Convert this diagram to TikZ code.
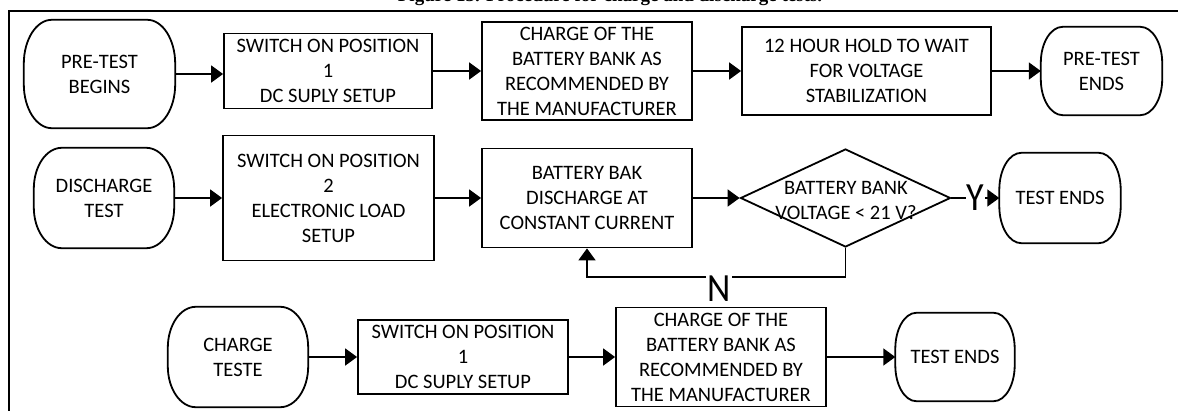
\documentclass[tikz,border=0pt]{standalone}
\usepackage{fontspec}
\setmainfont{Carlito}
\newfontfamily\titlefont{Liberation Serif}
\usetikzlibrary{arrows.meta,shapes.geometric,calc}
\tikzset{
  ln/.style={line width=1.8pt},
  txt/.style={font=\fontsize{20.5}{25}\selectfont, align=center, inner sep=0pt},
  termtxt/.style={txt},
  box/.style={txt, draw, ln},
  arr/.style={ln, -{Triangle[length=12pt,width=17pt]}},
  big/.style={font=\fontsize{40}{40}\selectfont, inner sep=1pt, xscale=0.9},
}
\newcommand\term[7]{% name, position, width, height, rx, ry, text
  \node[termtxt, minimum width=#3pt, minimum height=#4pt] (#1) at (#2) {#7};
  \draw[ln] ([xshift=#5pt]#1.north west) -- ([xshift=-#5pt]#1.north east)
    .. controls +(0.552*#5pt,0pt) and +(0pt,0.552*#6pt) .. ([yshift=-#6pt]#1.north east)
    -- ([yshift=#6pt]#1.south east)
    .. controls +(0pt,-0.552*#6pt) and +(0.552*#5pt,0pt) .. ([xshift=-#5pt]#1.south east)
    -- ([xshift=#5pt]#1.south west)
    .. controls +(-0.552*#5pt,0pt) and +(0pt,-0.552*#6pt) .. ([yshift=#6pt]#1.south west)
    -- ([yshift=-#6pt]#1.north west)
    .. controls +(0pt,0.552*#6pt) and +(-0.552*#5pt,0pt) .. ([xshift=#5pt]#1.north west)
    -- cycle;
}
\begin{document}
\begin{tikzpicture}[x=1pt,y=-1pt]
\useasboundingbox[fill=white] (0,0) rectangle (1178,410);
% title (cut off at the top)
\node[anchor=base, inner sep=0pt, font=\titlefont\bfseries\fontsize{19}{19}\selectfont] (title) at (610,1) {Figure 13. Procedure for charge and discharge tests.};
% frame
\draw[ln] (9,11) rectangle (1200,440);
% row 1
\term{pb}{99.5,74}{151}{108}{28}{44}{PRE-TEST\\BEGINS}
\node[box, minimum width=208pt, minimum height=75pt] (b1) at (328,71) {SWITCH ON POSITION\\1\\DC SUPLY SETUP};
\node[box, minimum width=210pt, minimum height=98pt] (b2) at (587,71) {CHARGE OF THE\\BATTERY BANK AS\\RECOMMENDED BY\\THE MANUFACTURER};
\node[box, minimum width=249pt, minimum height=88pt] (b3) at (866.5,71) {12 HOUR HOLD TO WAIT\\FOR VOLTAGE\\STABILIZATION};
\term{pe}{1101.5,71}{121}{88}{22}{36}{PRE-TEST\\ENDS}
\draw[arr] (pb.east) -- (pb.east -| b1.west);
\draw[arr] (b1.east) -- (b1.east -| b2.west);
\draw[arr] (b2.east) -- (b2.east -| b3.west);
\draw[arr] (b3.east) -- (b3.east -| pe.west);
% row 2
\term{dt}{104,198}{140}{100}{28}{41}{DISCHARGE\\TEST}
\node[box, minimum width=211pt, minimum height=125pt] (c1) at (328.5,198) {SWITCH ON POSITION\\2\\ELECTRONIC LOAD\\SETUP};
\node[box, minimum width=210pt, minimum height=99pt] (c2) at (587,198) {BATTERY BAK\\DISCHARGE AT\\CONSTANT CURRENT};
\node[diamond, draw, ln, minimum width=210pt, minimum height=98pt, inner sep=0pt] (dec) at (845.5,198) {};
\node[txt] (dect) at (846,200.5) {BATTERY BANK\\VOLTAGE < 21 V?};
\term{te1}{1060,198}{121}{90}{22}{37}{TEST ENDS}
\draw[arr] (dt.east) -- (c1.west);
\draw[arr] (c1.east) -- (c2.west);
\draw[arr] (c2.east) -- (dec.west);
\draw[arr] (dec.east) -- (te1.west) node[big, pos=0.5, fill=white] (yl) {Y};
\draw[arr] (dec.south) -- ++(0,29) -| (c2.south);
\node[big, fill=white] (nl) at (719,289) {N};
% row 3
\term{ct}{238,357}{140}{100}{28}{41}{CHARGE\\TESTE}
\node[box, minimum width=210pt, minimum height=74pt] (d1) at (463,357) {SWITCH ON POSITION\\1\\DC SUPLY SETUP};
\node[box, minimum width=210pt, minimum height=99pt] (d2) at (721,357) {CHARGE OF THE\\BATTERY BANK AS\\RECOMMENDED BY\\THE MANUFACTURER};
\term{te2}{955,357}{119}{88}{21}{36}{TEST ENDS}
\draw[arr] (ct.east) -- (d1.west);
\draw[arr] (d1.east) -- (d2.west);
\draw[arr] (d2.east) -- (te2.west);
\end{tikzpicture}
\end{document}
